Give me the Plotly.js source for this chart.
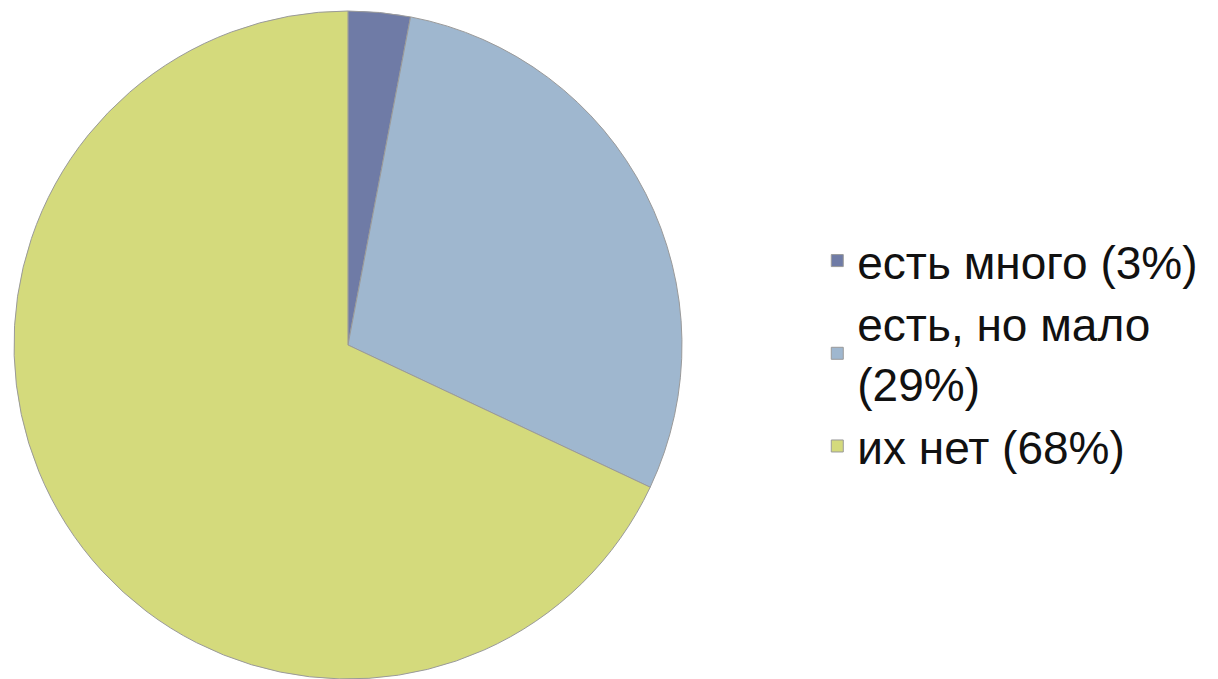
<!DOCTYPE html>
<html>
<head>
<meta charset="utf-8">
<script src="https://cdn.plot.ly/plotly-3.0.1.min.js"></script>
<style>html,body{margin:0;padding:0;background:#fff;}#chart{width:1218px;height:679px;}</style>
</head>
<body>
<div id="chart"></div>
<script>
const labels = ["есть много (3%)", "есть, но мало<br>(29%)", "их нет (68%)"];
const values = [3, 29, 68];
const colors = ["#6F7BA6", "#9FB7CF", "#D4DA7C"];

Plotly.newPlot("chart", [{
  type: "pie",
  labels: labels,
  values: values,
  sort: false,
  direction: "clockwise",
  rotation: 0,
  textinfo: "none",
  hoverinfo: "label",
  marker: {colors: colors, line: {color: "#9a9a9a", width: 1}},
  domain: {x: [0, 0.5714], y: [0, 1]}
}], {
  width: 1218, height: 679,
  margin: {l: 0, r: 0, t: 11, b: 0},
  paper_bgcolor: "#fff",
  showlegend: true,
  legend: {
    x: 0.671, y: 0.487, xanchor: "left", yanchor: "middle",
    font: {family: "Liberation Sans, Arial, sans-serif", size: 46, color: "#111"},
    itemwidth: 30, tracegroupgap: 0
  }
}, {displayModeBar: false});
</script>
</body>
</html>
